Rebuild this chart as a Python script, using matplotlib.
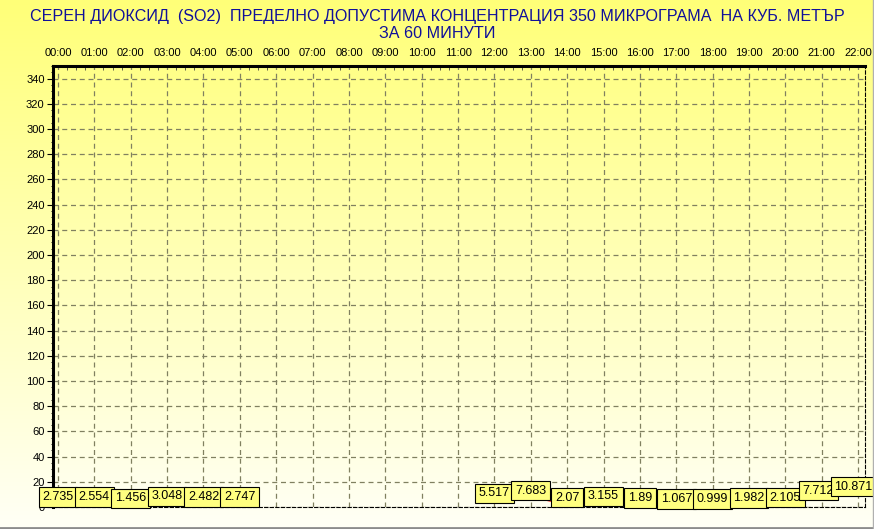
import numpy as np
import matplotlib
matplotlib.use('Agg')
import matplotlib.pyplot as plt
from matplotlib.colors import LinearSegmentedColormap
from matplotlib.ticker import MultipleLocator
from matplotlib.lines import Line2D

# data (hour -> value, NaN = no data)
hours = list(range(23))
hour_labels = ['{:02d}:00'.format(h) for h in hours]
values = [2.735, 2.554, 1.456, 3.048, 2.482, 2.747,
          np.nan, np.nan, np.nan, np.nan, np.nan, np.nan,
          5.517, 7.683, 2.07, 3.155, 1.89, 1.067, 0.999, 1.982, 2.105, 7.712, 10.871]
value_text = ['2.735', '2.554', '1.456', '3.048', '2.482', '2.747',
              '', '', '', '', '', '',
              '5.517', '7.683', '2.07', '3.155', '1.89', '1.067', '0.999', '1.982', '2.105', '7.712', '10.871']
y_ticks = list(range(0, 341, 20))
title = ('СЕРЕН ДИОКСИД  (SO2)  ПРЕДЕЛНО ДОПУСТИМА КОНЦЕНТРАЦИЯ 350 МИКРОГРАМА  НА КУБ. МЕТЪР\n'
         'ЗА 60 МИНУТИ')

plt.rcParams['font.family'] = ['Liberation Sans', 'DejaVu Sans']

fig = plt.figure(figsize=(8.74, 5.29), dpi=100)

# yellow gradient background over the whole figure
bg = fig.add_axes([0, 0, 1, 1], zorder=-10)
cmap = LinearSegmentedColormap.from_list('bg', ['#ffff78', '#fffff6'])
grad = np.linspace(0, 1, 256).reshape(-1, 1)
bg.imshow(grad, aspect='auto', cmap=cmap, extent=[0, 1, 0, 1])
bg.axis('off')

ax = fig.add_axes([53 / 874, 1 - 507 / 529, 812 / 874, 441 / 529])
ax.patch.set_alpha(0)
ax.set_xlim(-0.1375, 22.19)
ax.set_ylim(0, 350)

x = np.array(hours, dtype=float)
y = np.array(values, dtype=float)
ax.plot(x, y, color='#ff0000', lw=0.8, zorder=3)
rect = [(-1, -0.5), (1, -0.5), (1, 0.5), (-1, 0.5), (-1, -0.5)]
ax.plot(x, y, ls='none', marker=rect, markersize=7.5, markerfacecolor='#dd0000',
        markeredgecolor='#800000', markeredgewidth=0.6, zorder=4)

# small sideways nudges (points) so the last labels stay inside the picture
nudge = {21: -2.5, 22: -3.2}
for i, (xi, yi, txt) in enumerate(zip(x, y, value_text)):
    if np.isnan(yi):
        continue
    ax.annotate(txt, (xi, yi), xytext=(nudge.get(i, 0), 0.5), textcoords='offset points',
                ha='center', va='bottom', fontsize=9, zorder=6,
                bbox=dict(boxstyle='square,pad=0.3', facecolor='#ffff80',
                          edgecolor='black', lw=0.8))

# axes: ticks on top and left
ax.xaxis.tick_top()
ax.set_xticks(hours)
ax.set_xticklabels(hour_labels, fontsize=8)
ax.xaxis.set_minor_locator(MultipleLocator(0.25))
ax.set_yticks(y_ticks)
ax.set_yticklabels([str(v) for v in y_ticks], fontsize=8)
ax.yaxis.set_minor_locator(MultipleLocator(5))
ax.tick_params(axis='x', which='major', length=0, pad=6)
ax.tick_params(axis='x', which='minor', direction='in', length=3, color='#404040')
ax.tick_params(axis='y', which='major', length=4, pad=2)
ax.tick_params(axis='y', which='minor', length=1.5)

ax.grid(True, which='major', color='#808060', ls=(0, (4, 3)), lw=0.9)
ax.set_axisbelow(True)

for s in ['top', 'left']:
    ax.spines[s].set_linewidth(2.2)
    ax.spines[s].set_color('black')
for s in ['bottom', 'right']:
    ax.spines[s].set_linewidth(0.8)
    ax.spines[s].set_linestyle((0, (3, 2)))
    ax.spines[s].set_color('black')

fig.text(0.5, 1 - 25 / 529, title, ha='center', va='center', fontsize=11.6,
         color='#10109a', linespacing=1.1)

# sunken panel border at bottom and right
fig.add_artist(Line2D([0, 1], [1.5 / 529, 1.5 / 529], color='#8c8c8c', lw=2))
fig.add_artist(Line2D([1 - 1.5 / 874, 1 - 1.5 / 874], [0, 1], color='#b0b0b0', lw=1))

fig.savefig('out.png', dpi=100)
